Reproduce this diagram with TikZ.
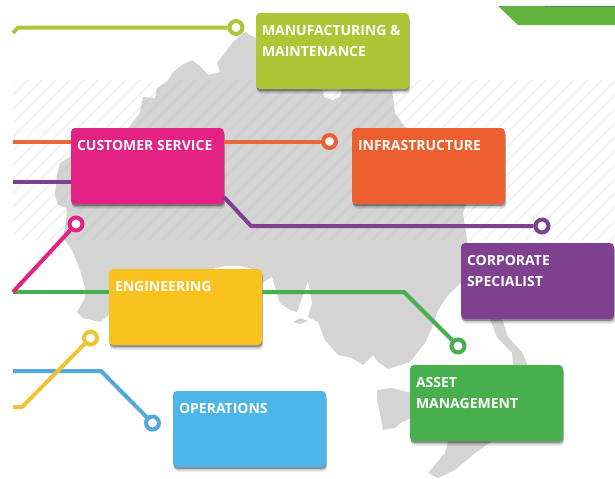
\documentclass[tikz,border=0pt]{standalone}
\usepackage{fontspec}
\setmainfont{Open Sans}
\definecolor{cLime}{HTML}{AEC636}
\definecolor{cPink}{HTML}{E42284}
\definecolor{cOrange}{HTML}{EE5F2F}
\definecolor{cPurple}{HTML}{7F4090}
\definecolor{cYellow}{HTML}{F9C21F}
\definecolor{cBlue}{HTML}{4BB6E7}
\definecolor{cGreen}{HTML}{47B04C}
\definecolor{cMap}{HTML}{D4D4D4}
\definecolor{cBanner}{HTML}{62B33F}
\definecolor{cBannerDark}{HTML}{3F8F2F}
\definecolor{cHatch}{HTML}{A8B8B0}
\definecolor{wireOrange}{HTML}{E8683A}
\definecolor{wireBlue}{HTML}{54A6DF}
\definecolor{wireYellow}{HTML}{F0C238}
\newcommand{\cardtext}[1]{\parbox[c][57pt][t]{114.75pt}{\fontsize{10.5}{15.75}\selectfont\bfseries\raggedright\leftskip=4.5pt\relax\rule{0pt}{16.5pt}#1}}
\tikzset{
  cardbox/.style={rectangle,rounded corners=3pt,inner sep=0pt,text=white,minimum width=114.75pt,minimum height=57pt,
    preaction={fill=black,opacity=.08,transform canvas={yshift=-3.6pt,xshift=.9pt}},
    preaction={fill=black,opacity=.16,transform canvas={yshift=-2.6pt,xshift=.6pt}},
    preaction={fill=black,opacity=.28,transform canvas={yshift=-1.4pt,xshift=.3pt}}},
  dot/.style={circle,draw=#1,fill=white,line width=3pt,minimum size=9.7pt,inner sep=0pt},
  wire/.style={draw=#1,line width=3pt,line join=round},
  land/.style={fill=cMap,draw=none},
}
\begin{document}
\begin{tikzpicture}[x=0.75pt,y=-0.75pt]
\useasboundingbox (0,0) rectangle (615,479);
\fill[white] (0,0) rectangle (615,479);
% banner
\fill[cBanner] (498,6) -- (615,6) -- (615,25) -- (518,25) -- cycle;
\fill[cBannerDark] (545,6) rectangle (615,7);
% map
\fill[land] (245,32) -- (256,38) -- (300,60) -- (322,89) -- (324,97) -- (332,100) -- (340,97) -- (342,88)
  -- (392,90) -- (395,113) -- (405,127) -- (440,140) -- (470,195) -- (463,213) -- (467,240) -- (470,270)
  -- (461,283) -- (448,295) -- (437,312) -- (431,330) -- (425,343) -- (410,362) -- (388,369) -- (378,362)
  -- (373,355) -- (363,365) -- (352,358) -- (338,355) -- (325,340) -- (318,322) -- (308,317) -- (312,303)
  -- (308,281) -- (303,295) -- (297,312) -- (290,310) -- (280,303) -- (272,277) -- (262,283) -- (250,268)
  -- (240,266) -- (225,266) -- (216,268) -- (150,300) -- (109,315) -- (100,322) -- (83,318) -- (77,312)
  -- (85,298) -- (85,287) -- (80,270) -- (72,250) -- (63,238) -- (66,222) -- (67,208) -- (58,205) -- (55,195)
  -- (57,175) -- (60,163) -- (70,157) -- (100,135) -- (128,128) -- (140,113) -- (143,97) -- (155,98)
  -- (157,88) -- (167,82) -- (173,72) -- (182,65) -- (192,60) -- (202,68) -- (208,75) -- (220,72)
  -- (217,63) -- (227,50) -- (233,42) -- cycle;
\fill[land] (490,319) -- (497,337) -- (512,353) -- (513,366) -- (528,366) -- (522,352) -- (508,337) -- (502,319) -- cycle;
\fill[land] (377,390) -- (392,388) -- (412,393) -- (412,418) -- (402,422) -- (395,428) -- (383,430) -- (380,413) -- (377,400) -- cycle;
\fill[land] (428,473) -- (445,453) -- (448,441) -- (492,441) -- (475,453) -- (455,470) -- (438,478) -- cycle;
\fill[land] (293,322) -- (300,318) -- (308,321) -- (300,324) -- cycle;
% hatching
\begin{scope}
\clip (13,80) rectangle (615,240);
\foreach \hx in {-160,-146,...,620}
  \draw[line width=1.2pt,color=cHatch,opacity=.17] (\hx,240) -- (\hx+160,80);
\end{scope}
% cards
\node[cardbox,fill=cLime] (mfg) at (332.5,51) {\cardtext{MANUFACTURING \&\\MAINTENANCE}};
\node[cardbox,fill=cPink] (cust) at (147.5,166) {\cardtext{CUSTOMER SERVICE}};
\node[cardbox,fill=cOrange] (infra) at (428.5,166) {\cardtext{INFRASTRUCTURE}};
\node[cardbox,fill=cPurple] (corp) at (537.5,281) {\cardtext{CORPORATE\\SPECIALIST}};
\node[cardbox,fill=cYellow] (eng) at (185.5,307) {\cardtext{ENGINEERING}};
\node[cardbox,fill=cBlue] (ops) at (249.5,429) {\cardtext{OPERATIONS}};
\node[cardbox,fill=cGreen] (asset) at (486.5,403) {\cardtext{ASSET\\MANAGEMENT}};
% dots
\node[dot=cLime] (mfgdot) at (236,27.5) {};
\node[dot=cOrange] (infradot) at (329.5,141.5) {};
\node[dot=cPurple] (corpdot) at (542,226) {};
\node[dot=cPink] (custdot) at (76,224) {};
\node[dot=cGreen] (assetdot) at (458,346) {};
\node[dot=wireYellow] (engdot) at (90.5,338) {};
\node[dot=wireBlue] (opsdot) at (152.5,423) {};
% free ends and bends
\coordinate (limeA) at (13,33);
\coordinate (limeB) at (18,27.5);
\coordinate (orangeA) at (13,141.5);
\coordinate (purpleA) at (13,181.5);
\coordinate (purpleB) at (224,197);
\coordinate (purpleC) at (251,226);
\coordinate (pinkA) at (13,292);
\coordinate (greenA) at (13,292);
\coordinate (greenB) at (404,292);
\coordinate (yellowA) at (13,407);
\coordinate (yellowB) at (22,407);
\coordinate (blueA) at (13,371);
\coordinate (blueB) at (101,371);
% connectors
\draw[wire=cLime] (limeA) -- (limeB) -- (mfgdot);
\draw[wire=wireOrange] (orangeA) -- (orangeA -| cust.west);
\draw[wire=wireOrange] (orangeA -| cust.east) -- (infradot);
\draw[wire=cPurple] (purpleA) -- (purpleA -| cust.west);
\draw[wire=cPurple] (purpleB) -- (purpleC) -- (corpdot);
\draw[wire=cGreen] (greenA) -- (greenA -| eng.west);
\draw[wire=cGreen] (greenA -| eng.east) -- (greenB) -- (assetdot);
\draw[wire=cPink] (pinkA) -- (custdot);
\draw[wire=wireBlue] (blueA) -- (blueB) -- (opsdot);
\draw[wire=wireYellow] (yellowA) -- (yellowB) -- (engdot);
\end{tikzpicture}
\end{document}
